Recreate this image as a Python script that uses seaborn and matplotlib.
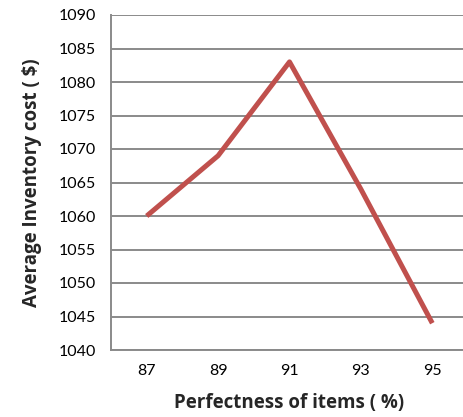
import matplotlib
matplotlib.use("Agg")
import matplotlib.pyplot as plt
import seaborn as sns
import pandas as pd

perfectness = ["87", "89", "91", "93", "95"]
avg_cost = [1060, 1069, 1083, 1064, 1044]
y_ticks = [1040, 1045, 1050, 1055, 1060, 1065, 1070, 1075, 1080, 1085, 1090]

df = pd.DataFrame({"perfectness": perfectness, "cost": avg_cost})

sns.set_theme(style="white")
plt.rcParams["font.family"] = ["Lato", "DejaVu Sans"]

fig = plt.figure(figsize=(4.64, 4.17), dpi=100)
ax = fig.add_axes([111 / 464, 67 / 417, 357 / 464, 335 / 417])

sns.lineplot(data=df, x="perfectness", y="cost", ax=ax, color="#C0504D",
             linewidth=3.6, sort=False, solid_capstyle="butt")

ax.set_xlim(-0.5, 4.5)
ax.set_ylim(1040, 1090)
ax.set_yticks(y_ticks)
ax.yaxis.grid(True, color="#8a8a8a", linewidth=1.4)
ax.set_axisbelow(True)

for side in ["top", "right"]:
    ax.spines[side].set_visible(False)
for side in ["left", "bottom"]:
    ax.spines[side].set_color("#8a8a8a")
    ax.spines[side].set_linewidth(1.4)

ax.tick_params(axis="both", length=0, labelsize=11.5, colors="#000000")
ax.tick_params(axis="y", pad=11)
ax.tick_params(axis="x", pad=10)

label_font = {"family": ["Open Sans", "DejaVu Sans"], "size": 13.5, "weight": "bold"}
ax.set_xlabel("Perfectness of items ( %)", fontdict=label_font, labelpad=11)
ax.set_ylabel("Average Inventory cost ( $)", fontdict=label_font, labelpad=12)

fig.savefig("out.png", dpi=100)
